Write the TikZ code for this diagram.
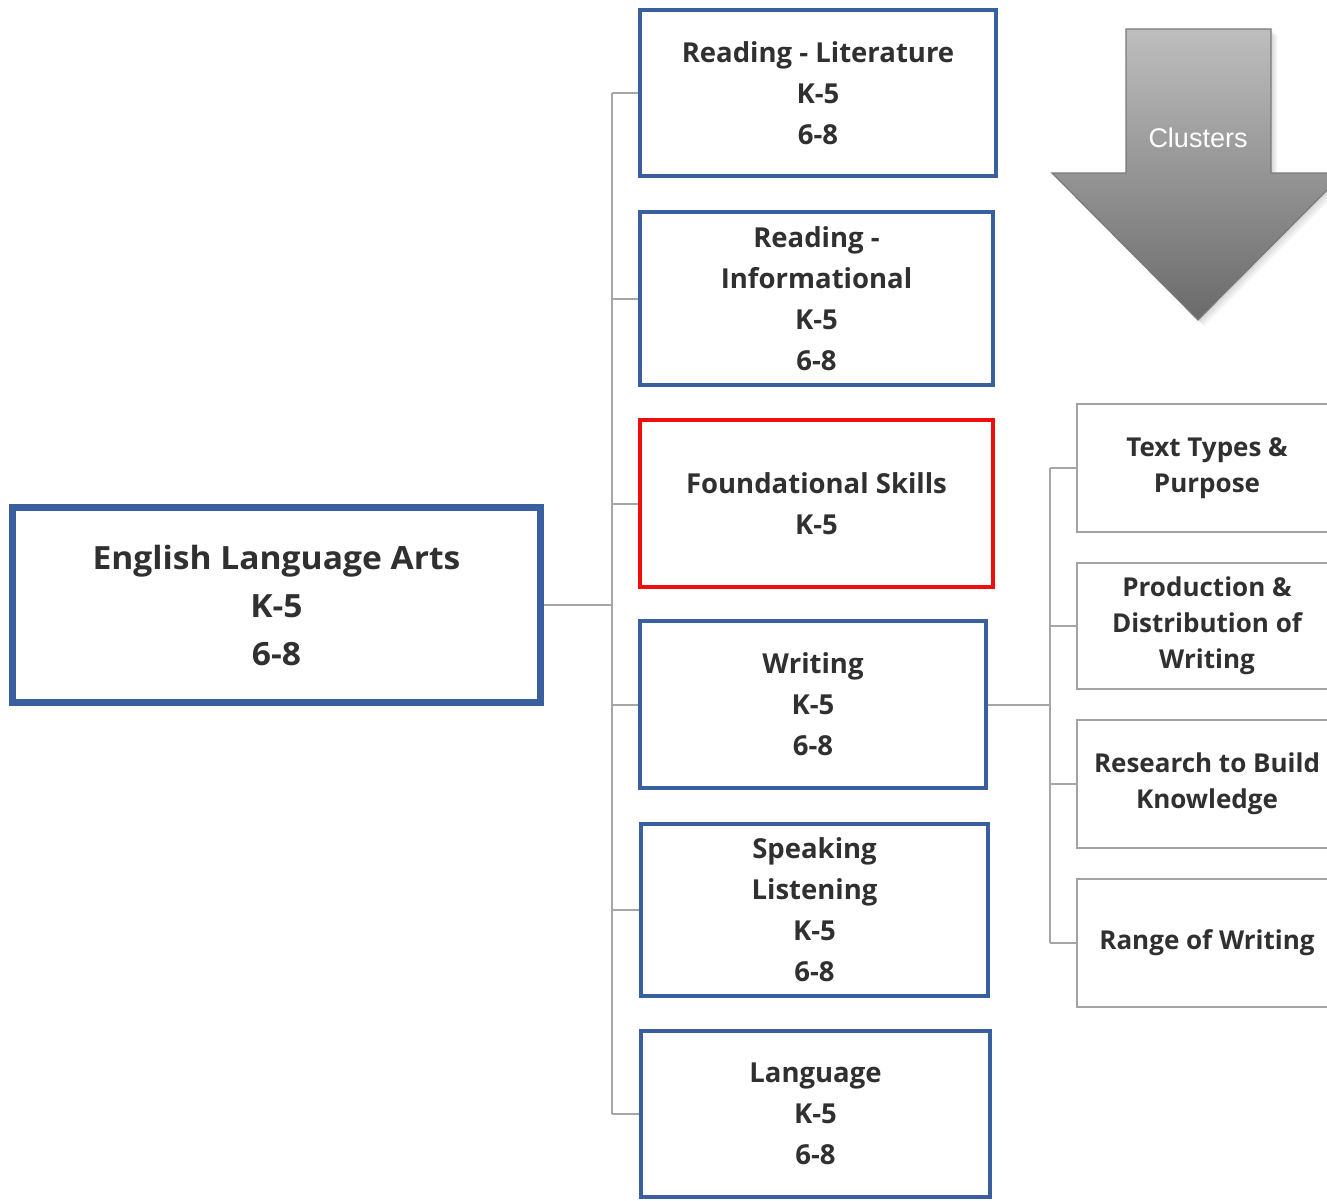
\documentclass[tikz,border=0pt]{standalone}
\usepackage{fontspec}
\setmainfont{Open Sans}
\newfontfamily\elafont[FakeStretch=1.05]{Open Sans}
\newfontfamily\arrowfont{Liberation Sans}
\definecolor{boxblue}{HTML}{3A5F9E}
\definecolor{boxred}{HTML}{F20D0D}
\definecolor{linkgray}{HTML}{A6A6A6}
\definecolor{clustergray}{HTML}{A3A3A3}
\definecolor{inkgray}{HTML}{303030}
\definecolor{arrowtop}{HTML}{BEBEBE}
\definecolor{arrowbottom}{HTML}{6A6A6A}
\definecolor{arrowedge}{HTML}{7A7A7A}
\tikzset{
  domainbox/.style={draw=boxblue, line width=4pt, fill=white, align=center,
    text=inkgray, font=\fontsize{27.5}{41}\selectfont\bfseries, inner sep=0pt},
  rootbox/.style={draw=boxblue, line width=7pt, fill=white, align=center,
    text=inkgray, font=\elafont\fontsize{32}{48}\selectfont\bfseries, inner sep=0pt},
  clusterbox/.style={draw=clustergray, line width=2.5pt, fill=white, align=center,
    text=inkgray, font=\fontsize{26}{36}\selectfont\bfseries, inner sep=0pt},
  link/.style={draw=linkgray, line width=2pt},
}
\begin{document}
\begin{tikzpicture}[x=1pt,y=-1pt]
\useasboundingbox (0,0) rectangle (1327,1200);
\clip (0,0) rectangle (1327,1200);

% root subject
\node[rootbox, minimum width=528pt, minimum height=195pt] (ela) at (276.5,605)
  {English Language Arts\\K-5\\6-8};

% domains
\node[domainbox, minimum width=356pt, minimum height=166pt] (rl) at (818,93)
  {Reading - Literature\\K-5\\6-8};
\node[domainbox, minimum width=353pt, minimum height=173pt] (ri) at (816.5,298.5)
  {Reading -\\Informational\\K-5\\6-8};
\node[domainbox, draw=boxred, minimum width=353pt, minimum height=167pt] (fs) at (816.5,503.5)
  {Foundational Skills\\K-5};
\node[domainbox, minimum width=346pt, minimum height=167pt] (wr) at (813,704.5)
  {Writing\\K-5\\6-8};
\node[domainbox, minimum width=347pt, minimum height=172pt] (sl) at (814.5,910)
  {Speaking\\Listening\\K-5\\6-8};
\node[domainbox, minimum width=349pt, minimum height=166pt] (la) at (815.5,1114)
  {Language\\K-5\\6-8};

% writing clusters
\node[clusterbox, minimum width=260pt, minimum height=128pt] (tt) at (1207,468)
  {Text Types \&\\Purpose};
\node[clusterbox, minimum width=260pt, minimum height=126pt] (pd) at (1207,626)
  {Production \&\\Distribution of\\Writing};
\node[clusterbox, minimum width=260pt, minimum height=128pt] (rb) at (1207,784)
  {Research to Build\\Knowledge};
\node[clusterbox, minimum width=260pt, minimum height=128pt] (rw) at (1207,943)
  {Range of Writing};

% tree connectors: root to domains
\coordinate (trunk) at (612,0);
\draw[link] (ela.east) -- (ela.east -| trunk);
\draw[link] (rl.west -| trunk) -- (la.west -| trunk);
\foreach \d in {rl,ri,fs,wr,sl,la}
  \draw[link] (\d.west -| trunk) -- (\d.west);

% writing to its clusters
\coordinate (branch) at (1050,0);
\draw[link] (wr.east) -- (wr.east -| branch);
\draw[link] (tt.west -| branch) -- (rw.west -| branch);
\foreach \c in {tt,pd,rb,rw}
  \draw[link] (\c.west -| branch) -- (\c.west);

% "Clusters" block arrow with soft shadow
\def\arrowpath{(1126,29) -- (1271,29) -- (1271,173) -- (1344,173) -- (1198,320) -- (1052,173) -- (1126,173) -- cycle}
\foreach \s in {6,4,2}
  \fill[black, opacity=0.05, shift={(\s,\s)}] \arrowpath;
\shade[top color=arrowtop, bottom color=arrowbottom] \arrowpath;
\draw[arrowedge, line width=1.2pt, line join=miter] \arrowpath;
\node[text=white, font=\arrowfont\fontsize{27}{32}\selectfont] (clusters) at (1198,138) {Clusters};
\end{tikzpicture}
\end{document}
